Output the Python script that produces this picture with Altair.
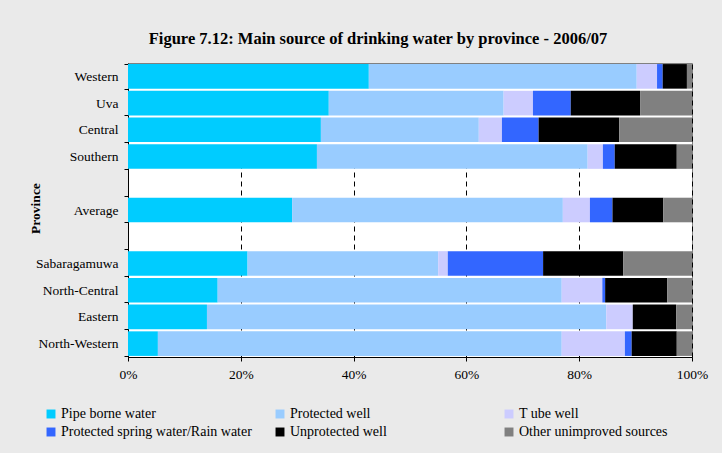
import altair as alt
import pandas as pd

row_order = ["Western", "Uva", "Central", "Southern", " ", "Average", "  ",
             "Sabaragamuwa", "North-Central", "Eastern", "North-Western"]
provinces = ["Western", "Uva", "Central", "Southern", "Average",
             "Sabaragamuwa", "North-Central", "Eastern", "North-Western"]
sources = ["Pipe borne water", "Protected well", "T ube well",
           "Protected spring water/Rain water", "Unprotected well",
           "Other unimproved sources"]
colors = ["#00CCFF", "#99CCFF", "#CCCCFF", "#3366FF", "#000000", "#808080"]

pipe_borne = [42.7, 35.6, 34.2, 33.5, 29.1, 21.2, 15.9, 14.0, 5.3]
protected_well = [47.5, 31.0, 28.0, 48.0, 48.0, 33.8, 61.0, 70.8, 71.6]
tube_well = [3.6, 5.2, 4.1, 2.7, 4.8, 1.7, 7.2, 4.7, 11.2]
protected_spring = [1.0, 6.7, 6.5, 2.1, 4.0, 16.9, 0.5, 0.0, 1.2]
unprotected_well = [4.3, 12.3, 14.3, 11.0, 9.0, 14.2, 11.0, 7.7, 8.0]
other_unimproved = [0.9, 9.2, 12.9, 2.7, 5.1, 12.2, 4.4, 2.8, 2.7]

series = [pipe_borne, protected_well, tube_well, protected_spring,
          unprotected_well, other_unimproved]

rows = []
for si, (src, vals) in enumerate(zip(sources, series)):
    for p, v in zip(provinces, vals):
        rows.append({"province": p, "source": src, "order": si, "value": v})
df = pd.DataFrame(rows)

serif = "Liberation Serif"

chart = alt.Chart(df).mark_bar().encode(
    y=alt.Y("province:N", sort=row_order,
            scale=alt.Scale(domain=row_order, paddingInner=0.08, paddingOuter=0.04),
            axis=alt.Axis(title="Province", tickBand="extent", tickSize=4,
                          tickColor="#000", domainColor="#000",
                          labelFont=serif, labelFontSize=13.5, labelColor="#000",
                          labelPadding=6,
                          titleFont=serif, titleFontSize=13.5, titleFontWeight="bold",
                          titleColor="#000", titleX=-93, titleY=145,
                          titleAngle=270, titleAlign="center", titleBaseline="middle")),
    x=alt.X("value:Q", stack="normalize",
            scale=alt.Scale(domain=[0, 1], nice=False),
            axis=alt.Axis(title=None, format="%", values=[0, 0.2, 0.4, 0.6, 0.8, 1.0],
                          grid=True, gridDash=[5, 4], gridColor="#000",
                          gridOpacity=1, gridWidth=1,
                          tickSize=4, tickColor="#000", domainColor="#000",
                          labelFont=serif, labelFontSize=13.5, labelColor="#000",
                          labelPadding=6, labelFlush=False)),
    color=alt.Color("source:N",
                    scale=alt.Scale(domain=sources, range=colors),
                    legend=alt.Legend(title=None, orient="none", legendX=-84, legendY=344,
                                      direction="horizontal", columns=3, gridAlign="all",
                                      symbolType="square", symbolSize=80,
                                      symbolStrokeWidth=0, columnPadding=21,
                                      rowPadding=4, labelFont=serif,
                                      labelFontSize=14, labelColor="#000",
                                      labelLimit=400, labelOffset=3)),
    order=alt.Order("order:Q"),
).properties(
    width=564, height=294,
    title=alt.TitleParams("Figure 7.12: Main source of drinking water by province - 2006/07",
                          font=serif, fontSize=16.5, fontWeight="bold", color="#000",
                          anchor="middle", dx=-32, offset=9),
    autosize=alt.AutoSizeParams(type="none"),
    padding={"left": 128, "top": 63, "right": 30, "bottom": 96},
    background="#EAEAEA",
).configure_view(fill="#FFFFFF", stroke="#808080", strokeWidth=1)

chart.save("out.html", embed_options={"renderer": "svg", "actions": False})
